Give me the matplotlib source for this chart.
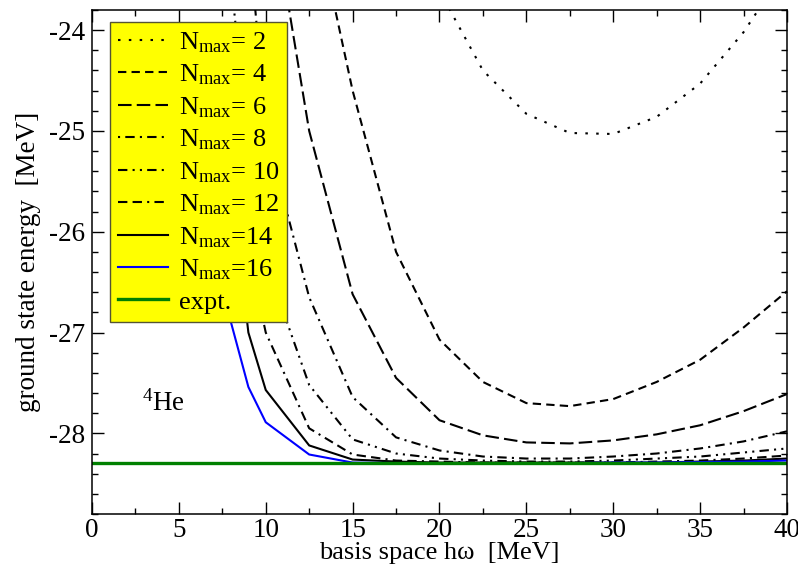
import matplotlib
matplotlib.use("Agg")
import matplotlib.pyplot as plt
from matplotlib.ticker import MultipleLocator

plt.rcParams["font.family"] = ["Liberation Serif", "DejaVu Serif"]
plt.rcParams["mathtext.fontset"] = "custom"
plt.rcParams["mathtext.rm"] = "Liberation Serif"
plt.rcParams["mathtext.it"] = "Liberation Serif:italic"
plt.rcParams["axes.unicode_minus"] = False

# basis-space frequency (MeV) and ground-state energies (MeV) per model space
hw_n2 = [17.5, 20, 22.5, 25, 27.5, 30, 32.5, 35, 37.5, 40]
e_n2 = [-22.6, -23.61, -24.40, -24.83, -25.02, -25.03, -24.86, -24.53, -24.02, -23.37]

hw_n4 = [12.5, 15, 17.5, 20, 22.5, 25, 27.5, 30, 32.5, 35, 37.5, 40]
e_n4 = [-22.6, -24.6, -26.2, -27.07, -27.49, -27.70, -27.73, -27.66, -27.49, -27.27, -26.95, -26.59]

hw_n6 = [10, 12.5, 15, 17.5, 20, 22.5, 25, 27.5, 30, 32.5, 35, 37.5, 40]
e_n6 = [-22.4, -25.0, -26.62, -27.45, -27.87, -28.02, -28.09, -28.10, -28.07, -28.01, -27.92, -27.78, -27.61]

hw_n8 = [9, 10, 12.5, 15, 17.5, 20, 22.5, 25, 27.5, 30, 32.5, 35, 37.5, 40]
e_n8 = [-23.0, -25.0, -26.65, -27.64, -28.04, -28.17, -28.23, -28.25, -28.25, -28.23, -28.20, -28.15, -28.08, -27.98]

hw_n10 = [8, 9, 10, 12.5, 15, 17.5, 20, 22.5, 25, 27.5, 30, 32.5, 35, 37.5, 40]
e_n10 = [-23.5, -25.2, -26.3, -27.52, -28.06, -28.20, -28.25, -28.27, -28.28, -28.28, -28.27, -28.25, -28.23, -28.19, -28.15]

hw_n12 = [8, 9, 10, 12.5, 15, 17.5, 20, 22.5, 25, 27.5, 30, 32.5, 35, 37.5, 40]
e_n12 = [-25.0, -26.2, -27.0, -27.95, -28.21, -28.27, -28.28, -28.29, -28.29, -28.29, -28.29, -28.28, -28.27, -28.25, -28.22]

hw_n14 = [8, 9, 10, 12.5, 15, 17.5, 20, 22.5, 25, 27.5, 30, 32.5, 35, 37.5, 40]
e_n14 = [-25.5, -27.0, -27.57, -28.12, -28.26, -28.28, -28.29, -28.29, -28.29, -28.29, -28.29, -28.29, -28.28, -28.27, -28.25]

hw_n16 = [7, 8, 9, 10, 12.5, 15, 17.5, 20, 22.5, 25, 27.5, 30, 32.5, 35, 37.5, 40]
e_n16 = [-25.5, -26.9, -27.54, -27.89, -28.21, -28.29, -28.295, -28.295, -28.295, -28.295, -28.295, -28.29, -28.29, -28.285, -28.28, -28.27]

e_expt = -28.296

labels = [r"N$_{\rm max}$= 2", r"N$_{\rm max}$= 4", r"N$_{\rm max}$= 6",
          r"N$_{\rm max}$= 8", r"N$_{\rm max}$= 10", r"N$_{\rm max}$= 12",
          r"N$_{\rm max}$=14", r"N$_{\rm max}$=16", "expt."]

fs = 19.5

fig = plt.figure(figsize=(7.98, 5.69), dpi=100)
ax = fig.add_axes([0.1153, 0.0967, 0.8709, 0.8857])

lw = 1.5
series = [
    (hw_n2, e_n2, "black", (0, (1.2, 4.0))),
    (hw_n4, e_n4, "black", (0, (4.0, 2.5))),
    (hw_n6, e_n6, "black", (0, (6.5, 2.5))),
    (hw_n8, e_n8, "black", (0, (1.0, 2.5, 4.5, 2.5))),
    (hw_n10, e_n10, "black", (0, (4.5, 2.5, 1.0, 2.5, 1.0, 2.5))),
    (hw_n12, e_n12, "black", (0, (4.5, 2.5, 4.5, 2.5, 1.0, 2.5))),
    (hw_n14, e_n14, "black", "-"),
    (hw_n16, e_n16, "#0000ff", "-"),
]
handles = []
for (x, y, c, ls), lab in zip(series, labels):
    h, = ax.plot(x, y, color=c, lw=lw, linestyle=ls, label=lab, solid_joinstyle="miter")
    handles.append(h)
h_exp = ax.axhline(e_expt, color="#008000", lw=2.4, label=labels[-1])
handles.append(h_exp)

ax.set_xlim(0, 40)
ax.set_ylim(-28.8, -23.8)
ax.xaxis.set_major_locator(MultipleLocator(5))
ax.xaxis.set_minor_locator(MultipleLocator(2.5))
ax.yaxis.set_major_locator(MultipleLocator(1))
ax.yaxis.set_minor_locator(MultipleLocator(0.2))
ax.tick_params(which="both", direction="in", top=True, right=True, width=1.0)
ax.tick_params(which="major", length=8.5, labelsize=fs, pad=5)
ax.tick_params(axis="x", which="major", pad=3)
ax.tick_params(which="minor", length=4.2)
for s in ax.spines.values():
    s.set_linewidth(1.1)

ax.set_xlabel(r"basis space hω  [MeV]", fontsize=19, labelpad=-1)
ax.set_ylabel("ground state energy  [MeV]", fontsize=fs, labelpad=6)

ax.text(2.9, -27.7, r"$^{4}$He", fontsize=fs, ha="left", va="center")

leg = ax.legend(handles=handles, loc="upper left", bbox_to_anchor=(0.026, 0.976),
                borderaxespad=0, fontsize=19, frameon=True, fancybox=False,
                framealpha=1, facecolor="#ffff00", edgecolor="#555533",
                handlelength=1.9, handletextpad=0.4, labelspacing=0.3,
                borderpad=0.3)
leg.get_frame().set_linewidth(1.0)

fig.savefig("out.png", dpi=100)
